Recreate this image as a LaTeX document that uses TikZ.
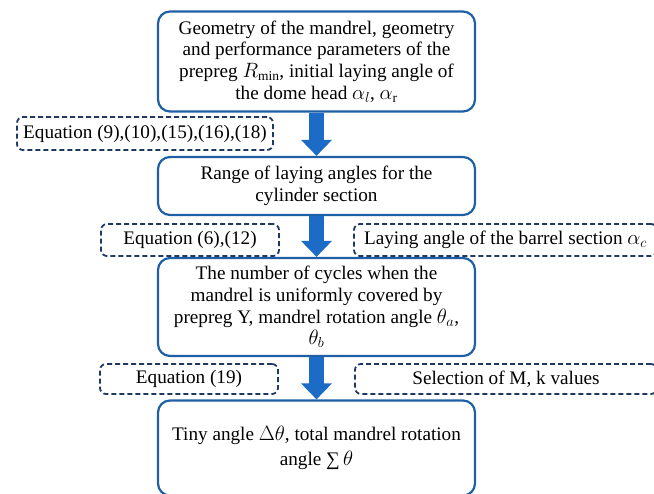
\documentclass[tikz,border=0pt]{standalone}
\usepackage{fontspec}
\setmainfont{Liberation Serif}
\usetikzlibrary{arrows.meta}
\definecolor{boxblue}{HTML}{1F5FA6}
\definecolor{arrowblue}{HTML}{1C6BC6}
\definecolor{eqnavy}{HTML}{1F3864}
\tikzset{
  procbox/.style={draw=boxblue, line width=2.2pt, rounded corners=12pt, fill=white,
    align=center, inner sep=0pt, minimum width=317pt},
  eqbox/.style={draw=eqnavy, line width=1.8pt, dash pattern=on 5pt off 3pt,
    rounded corners=6pt, inner sep=0pt, minimum height=32pt},
  flowarrow/.style={draw=arrowblue, line width=15pt,
    -{Triangle[width=30pt,length=16pt]}}
}
\begin{document}
\begin{tikzpicture}[x=1pt,y=-1pt]
  \useasboundingbox (0,0) rectangle (654,494);
  {\fontsize{19.2}{21.7}\selectfont

  % Drawing process boxes
  \node [procbox, minimum height=100pt] (geom) at (316.5,61.5)
    {Geometry of the mandrel, geometry\\and performance parameters of the\\
     prepreg $R_{\mathrm{min}}$, initial laying angle of\\the dome head $\alpha_l$, $\alpha_{\mathrm{r}}$};
  \node [procbox, minimum height=58pt] (range) at (316.5,186)
    {Range of laying angles for the\\cylinder section};
  \node [procbox, minimum height=98pt] (cycles) at (316.5,307)
    {The number of cycles when the\\mandrel is uniformly covered by\\
     prepreg Y, mandrel rotation angle $\theta_a$,\\$\theta_b$};
  \node [procbox, minimum height=95pt] (tiny) at (316.5,448)
    {Tiny angle $\Delta\theta$, total mandrel rotation\\[3pt]angle ∑\,$\theta$};

  % Drawing dashed input boxes
  \node [eqbox, minimum width=256pt, minimum height=33pt] (eqa) at (145,133.5)
    {Equation (9),(10),(15),(16),(18)};
  \node [eqbox, minimum width=178pt] (eqb) at (190,240) {Equation (6),(12)};
  \node [eqbox, minimum width=303pt] (barrel) at (505.5,240)
    {Laying angle of the barrel section $\alpha_c$};
  \node [eqbox, minimum width=178pt, minimum height=30pt] (eqc) at (189,379) {Equation (19)};
  \node [eqbox, minimum width=302pt, minimum height=30pt] (select) at (506,379)
    {Selection of M, k values};

  % Drawing arrows
  \draw [flowarrow] (geom.south) -- (range.north);
  \draw [flowarrow] (range.south) -- (cycles.north);
  \draw [flowarrow] (cycles.south) -- (tiny.north);
  }
\end{tikzpicture}
\end{document}
